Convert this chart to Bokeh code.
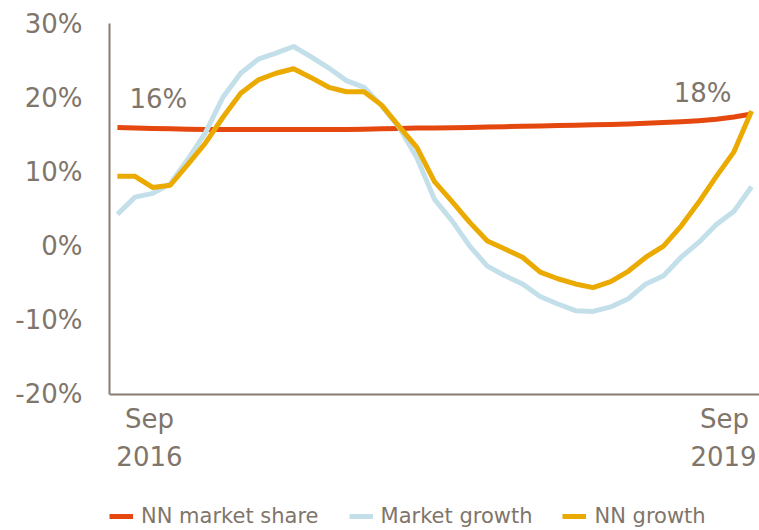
from bokeh.plotting import figure
from bokeh.models import Range1d, FixedTicker, Label, Legend, LegendItem, CustomJSTickFormatter
from bokeh.embed import file_html
from bokeh.resources import INLINE

# Monthly, Sep 2016 .. Sep 2019
months = list(range(37))
first_label = ["Sep", "2016"]
last_label = ["Sep", "2019"]

nn_market_share = [16.0, 15.9, 15.85, 15.8, 15.75, 15.7, 15.7, 15.7, 15.7, 15.7,
                   15.7, 15.7, 15.7, 15.7, 15.75, 15.8, 15.85, 15.9, 15.9, 15.95,
                   16.0, 16.05, 16.1, 16.15, 16.2, 16.25, 16.3, 16.35, 16.4, 16.45,
                   16.55, 16.65, 16.75, 16.9, 17.1, 17.4, 17.8]
market_growth = [4.3, 6.6, 7.1, 8.4, 11.7, 15.3, 20.1, 23.3, 25.2, 26.0,
                 26.9, 25.5, 24.0, 22.3, 21.4, 18.9, 16.0, 11.9, 6.3, 3.4,
                 0.0, -2.7, -4.0, -5.1, -6.8, -7.8, -8.7, -8.8, -8.2, -7.1,
                 -5.1, -4.0, -1.5, 0.5, 2.9, 4.7, 8.0]
nn_growth = [9.4, 9.4, 7.9, 8.2, 11.0, 13.9, 17.4, 20.6, 22.4, 23.3,
             23.9, 22.7, 21.4, 20.8, 20.8, 19.0, 16.1, 13.3, 8.7, 6.0,
             3.2, 0.7, -0.4, -1.5, -3.5, -4.4, -5.1, -5.6, -4.8, -3.4,
             -1.5, 0.0, 2.7, 5.9, 9.4, 12.7, 18.2]
y_ticks = [-20, -10, 0, 10, 20, 30]

RED = "#E5480F"
BLUE = "#C3DFEA"
YELLOW = "#EBAA00"
TXT = "#7F756B"
AXIS = "#877C73"
FONT = "DejaVu Sans"

# frame extends below the axis so labels and legend (drawn in the frame) stay visible
p = figure(width=759, height=530, output_backend="svg", toolbar_location=None,
           x_range=Range1d(-0.45, 36.45), y_range=Range1d(-38.06, 30),
           min_border_left=109, min_border_right=0, min_border_top=23,
           min_border_bottom=2)
p.outline_line_color = None
p.grid.visible = False
p.background_fill_color = "white"

r1 = p.line(months, nn_market_share, line_color=RED, line_width=5, line_join="round")
r2 = p.line(months, market_growth, line_color=BLUE, line_width=5, line_join="round")
r3 = p.line(months, nn_growth, line_color=YELLOW, line_width=5, line_join="round")

# y axis
p.yaxis.ticker = FixedTicker(ticks=y_ticks)
p.yaxis.bounds = (y_ticks[0], y_ticks[-1])
p.yaxis.formatter = CustomJSTickFormatter(code="return tick.toFixed(0) + '%';")
p.yaxis.major_tick_line_color = None
p.yaxis.minor_tick_line_color = None
p.yaxis.axis_line_color = AXIS
p.yaxis.axis_line_width = 2
p.yaxis.major_label_text_font = FONT
p.yaxis.major_label_text_font_size = "26px"
p.yaxis.major_label_text_color = TXT
p.yaxis.major_label_standoff = 21

# x axis line at -20%
p.xaxis.fixed_location = y_ticks[0]
p.xaxis.ticker = FixedTicker(ticks=[])
p.xaxis.major_tick_line_color = None
p.xaxis.minor_tick_line_color = None
p.xaxis.major_tick_out = 0
p.xaxis.major_label_standoff = 0
p.xaxis.major_label_text_font_size = "0px"
p.xaxis.axis_line_color = AXIS
p.xaxis.axis_line_width = 2

def lab(x, y, text, xo, yo):
    p.add_layout(Label(x=x, y=y, text=text, x_offset=xo, y_offset=yo,
                       text_font=FONT, text_font_size="26px", text_color=TXT,
                       text_align="center", text_baseline="middle"))

lab(months[0], y_ticks[0], first_label[0], 32, -25)
lab(months[0], y_ticks[0], first_label[1], 32, -62)
lab(months[-1], y_ticks[0], last_label[0], -27, -25)
lab(months[-1], y_ticks[0], last_label[1], -28, -62)

# value annotations
lab(months[0], nn_market_share[0], "%d%%" % round(nn_market_share[0]), 41, 28)
lab(months[-1], nn_market_share[-1], "%d%%" % round(nn_market_share[-1]), -49, 21)

legend = Legend(items=[LegendItem(label="NN market share", renderers=[r1]),
                       LegendItem(label="Market growth", renderers=[r2]),
                       LegendItem(label="NN growth", renderers=[r3])],
                orientation="horizontal", location=(0, 0),
                label_text_font=FONT, label_text_font_size="21px",
                label_text_color=TXT, glyph_width=24, glyph_height=20,
                label_height=20, label_standoff=8, spacing=30, padding=0,
                margin=0, border_line_color=None, background_fill_alpha=0)
p.add_layout(legend, "center")

open("out.html", "w").write(file_html(p, INLINE))
